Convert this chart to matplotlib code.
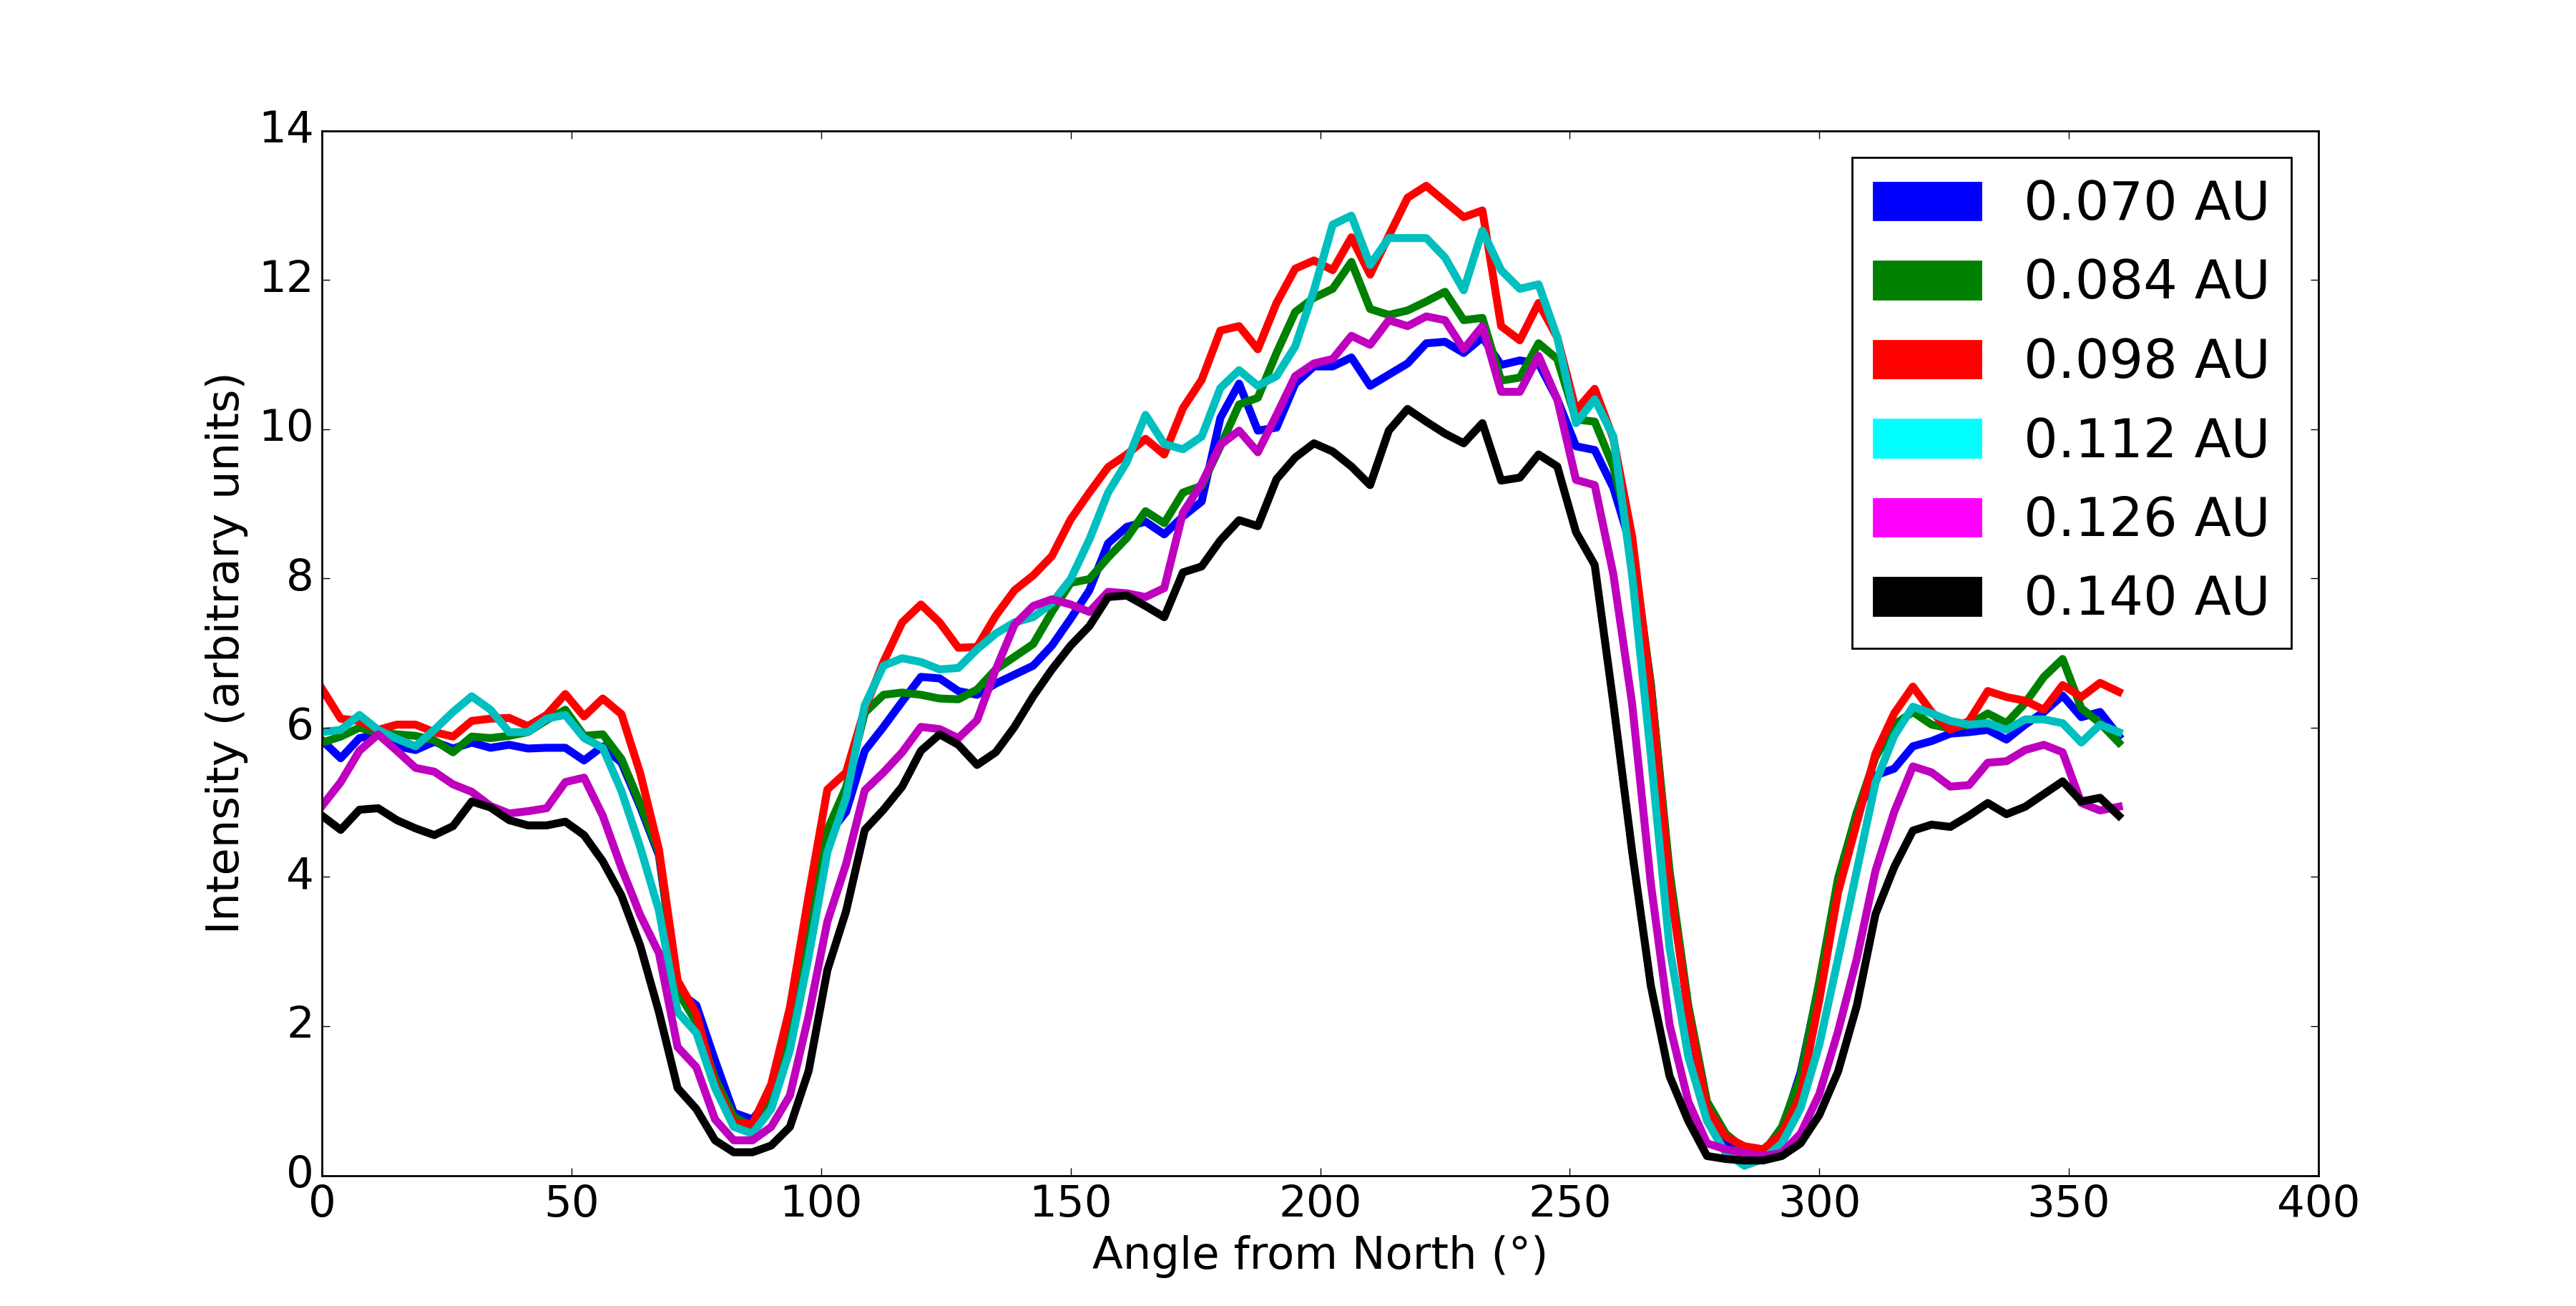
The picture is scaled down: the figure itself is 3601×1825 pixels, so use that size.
import numpy as np
import matplotlib
matplotlib.use("Agg")
import matplotlib.pyplot as plt
import matplotlib.patches as mpatches

plt.style.use("classic")

# angle from north, 0..360 in 3.75 degree steps
angle = np.arange(0, 360.01, 3.75)

i_070 = [5.83, 5.59, 5.86, 5.91, 5.75, 5.70, 5.81, 5.72, 5.80, 5.73, 5.77, 5.72, 5.73, 5.73, 5.56, 5.75, 5.53,
         4.94, 4.29, 2.47, 2.28, 1.54, 0.84, 0.75, 1.07, 1.86, 3.03, 4.55, 4.87,
         5.69, 6.01, 6.35, 6.68, 6.66, 6.49, 6.44, 6.59, 6.71, 6.83, 7.10, 7.46, 7.84, 8.47, 8.69, 8.76, 8.59, 8.83,
         9.03, 10.15, 10.61, 9.98, 10.02, 10.61, 10.84, 10.84, 10.96, 10.58, 10.73, 10.88, 11.15, 11.17, 11.02, 11.23,
         10.86, 10.92, 10.88, 10.40, 9.77, 9.72, 9.21,
         8.38, 6.58, 4.00, 2.19, 0.82, 0.43, 0.26, 0.26, 0.60, 1.38,
         2.57, 3.89, 4.86, 5.36, 5.45, 5.75, 5.82, 5.92, 5.94, 5.97, 5.84, 6.04, 6.21, 6.43, 6.14, 6.21, 5.89]

i_084 = [5.80, 5.88, 6.00, 5.93, 5.91, 5.89, 5.83, 5.67, 5.88, 5.86, 5.89, 5.94, 6.10, 6.24, 5.89, 5.91, 5.58,
         4.98, 4.33, 2.47, 2.05, 1.30, 0.79, 0.65, 1.07, 2.00, 3.17, 4.63, 5.20,
         6.20, 6.44, 6.47, 6.44, 6.39, 6.38, 6.51, 6.78, 6.95, 7.12, 7.55, 7.94, 7.99, 8.28, 8.54, 8.90, 8.74, 9.15,
         9.24, 9.77, 10.33, 10.42, 11.02, 11.57, 11.76, 11.88, 12.24, 11.61, 11.53, 11.59, 11.71, 11.84, 11.46, 11.49,
         10.65, 10.69, 11.15, 10.94, 10.13, 10.10, 9.49,
         8.47, 6.58, 4.08, 2.28, 0.99, 0.56, 0.35, 0.30, 0.65, 1.33,
         2.60, 3.98, 4.86, 5.60, 6.04, 6.21, 6.04, 5.99, 6.04, 6.19, 6.06, 6.33, 6.68, 6.92, 6.26, 6.06, 5.80]

i_098 = [6.52, 6.12, 6.09, 5.97, 6.04, 6.04, 5.94, 5.88, 6.09, 6.12, 6.13, 6.02, 6.17, 6.45, 6.15, 6.39, 6.18,
         5.39, 4.37, 2.61, 2.17, 1.22, 0.71, 0.69, 1.22, 2.25, 3.75, 5.17, 5.40,
         6.25, 6.88, 7.41, 7.65, 7.41, 7.07, 7.08, 7.50, 7.84, 8.04, 8.30, 8.79, 9.15, 9.49, 9.66, 9.87, 9.66, 10.28,
         10.66, 11.32, 11.38, 11.07, 11.69, 12.15, 12.26, 12.13, 12.57, 12.07, 12.59, 13.10, 13.26, 13.05, 12.84, 12.93,
         11.38, 11.19, 11.69, 11.23, 10.25, 10.54, 9.87,
         8.56, 6.49, 3.91, 2.19, 0.90, 0.52, 0.39, 0.35, 0.56, 1.08,
         2.35, 3.79, 4.72, 5.65, 6.19, 6.55, 6.21, 5.97, 6.09, 6.49, 6.41, 6.36, 6.24, 6.57, 6.41, 6.60, 6.48]

i_112 = [5.94, 5.97, 6.17, 5.97, 5.85, 5.75, 5.97, 6.21, 6.42, 6.24, 5.94, 5.94, 6.12, 6.17, 5.86, 5.73, 5.15,
         4.40, 3.55, 2.19, 1.91, 1.17, 0.65, 0.56, 0.89, 1.68, 2.93, 4.33, 5.06,
         6.30, 6.83, 6.93, 6.88, 6.78, 6.80, 7.05, 7.26, 7.41, 7.48, 7.67, 7.99, 8.52, 9.15, 9.56, 10.19, 9.80, 9.73,
         9.90, 10.55, 10.79, 10.58, 10.71, 11.11, 11.86, 12.74, 12.86, 12.20, 12.56, 12.56, 12.56, 12.30, 11.86, 12.66,
         12.13, 11.88, 11.94, 11.23, 10.08, 10.40, 9.90,
         8.04, 5.63, 3.05, 1.59, 0.73, 0.30, 0.13, 0.22, 0.43, 0.90,
         1.75, 2.90, 4.08, 5.26, 5.89, 6.28, 6.19, 6.09, 6.04, 6.06, 5.97, 6.11, 6.11, 6.06, 5.80, 6.04, 5.94]

i_126 = [4.95, 5.27, 5.69, 5.91, 5.69, 5.46, 5.41, 5.24, 5.14, 4.95, 4.85, 4.88, 4.92, 5.27, 5.33, 4.82, 4.12,
         3.49, 2.98, 1.72, 1.45, 0.75, 0.47, 0.47, 0.65, 1.07, 2.14, 3.40, 4.17,
         5.16, 5.40, 5.67, 6.01, 5.98, 5.86, 6.10, 6.78, 7.38, 7.63, 7.72, 7.65, 7.55, 7.82, 7.80, 7.75, 7.87, 8.88,
         9.27, 9.79, 9.98, 9.69, 10.19, 10.71, 10.88, 10.94, 11.25, 11.13, 11.46, 11.38, 11.51, 11.46, 11.07, 11.38,
         10.50, 10.50, 10.98, 10.40, 9.32, 9.25, 8.05,
         6.32, 3.91, 2.02, 0.99, 0.43, 0.35, 0.30, 0.26, 0.30, 0.56,
         1.09, 1.93, 2.90, 4.08, 4.87, 5.48, 5.40, 5.21, 5.23, 5.53, 5.55, 5.70, 5.77, 5.67, 4.99, 4.89, 4.94]

i_140 = [4.82, 4.63, 4.90, 4.92, 4.76, 4.65, 4.56, 4.68, 5.01, 4.93, 4.76, 4.69, 4.69, 4.74, 4.56, 4.21, 3.75,
         3.08, 2.19, 1.17, 0.89, 0.47, 0.31, 0.31, 0.40, 0.65, 1.40, 2.75, 3.54,
         4.63, 4.90, 5.21, 5.69, 5.91, 5.77, 5.50, 5.67, 6.01, 6.42, 6.78, 7.10, 7.36, 7.75, 7.77, 7.63, 7.48, 8.08,
         8.16, 8.51, 8.78, 8.70, 9.33, 9.62, 9.81, 9.70, 9.50, 9.25, 9.98, 10.27, 10.10, 9.94, 9.81, 10.08,
         9.31, 9.35, 9.66, 9.50, 8.62, 8.18, 6.32,
         4.34, 2.54, 1.33, 0.73, 0.26, 0.22, 0.20, 0.20, 0.26, 0.43,
         0.81, 1.39, 2.27, 3.50, 4.13, 4.62, 4.70, 4.67, 4.82, 4.99, 4.84, 4.94, 5.11, 5.28, 5.01, 5.06, 4.82]

labels = ["0.070 AU", "0.084 AU", "0.098 AU", "0.112 AU", "0.126 AU", "0.140 AU"]
series = [i_070, i_084, i_098, i_112, i_126, i_140]
line_colors = ["b", "g", "r", "c", "m", "k"]
patch_colors = ["blue", "green", "red", "cyan", "magenta", "black"]

fig = plt.figure(figsize=(18.005, 9.125), dpi=200, facecolor="white")
ax = fig.add_subplot(111)

for y, c in zip(series, line_colors):
    ax.plot(angle, y, color=c, lw=4)

ax.set_xlim(0, 400)
ax.set_ylim(0, 14)
ax.tick_params(labelsize=22)
ax.set_xlabel("Angle from North (°)", fontsize=22.5)
ax.set_ylabel("Intensity (arbitrary units)", fontsize=22.5)

handles = [mpatches.Patch(color=c, label=l) for c, l in zip(patch_colors, labels)]
ax.legend(handles=handles, loc="upper right", fontsize=27)

fig.savefig("out.png", dpi=200, facecolor="white")
